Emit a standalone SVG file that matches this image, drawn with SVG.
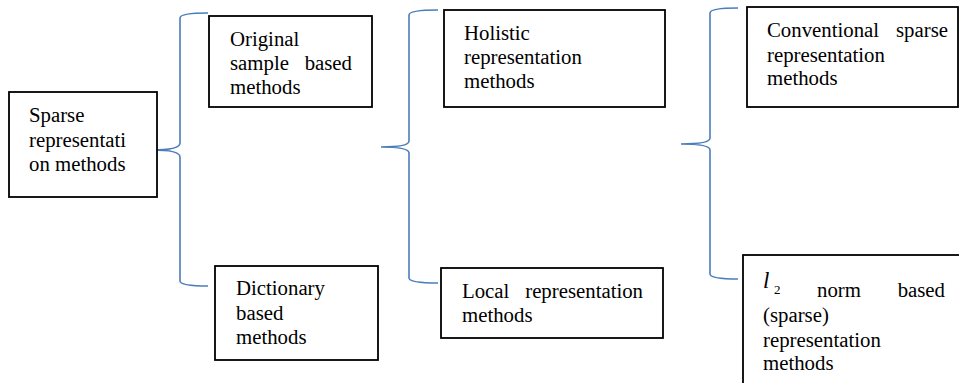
<svg xmlns="http://www.w3.org/2000/svg" width="959" height="383" viewBox="0 0 959 383">
<style>
.box{fill:#fff;stroke:#000;stroke-width:1.8}
.br{fill:none;stroke:#4a7ebb;stroke-width:1.6}
text{font-family:"Liberation Serif","Times New Roman",serif;font-size:20.8px;fill:#000}
.e{text-anchor:end}
text.l{font-style:italic;font-size:23px}
text.sub{font-size:13px}
</style>
<rect width="959" height="383" fill="#fff"/>
<g id="connectors">
<path class="br" d="M208,13 Q180,13 180,18 L180,143 Q180,150 152,150 Q180,150 180,157 L180,281 Q180,286 208,286"/>
<path class="br" d="M438,10 Q409,10 409,15 L409,141 Q409,147 381,147 Q409,147 409,153 L409,278 Q409,283 438,283"/>
<path class="br" d="M738,8 Q710,8 710,13 L710,138 Q710,144 681,144 Q710,144 710,150 L710,274 Q710,279 738,279"/>
</g>
<g id="n-sparse">
<rect class="box" x="9" y="92" width="148" height="105"/>
<text x="29" y="122">Sparse</text>
<text x="29" y="147">representati</text>
<text x="29" y="171">on methods</text>
</g>
<g id="n-original">
<rect class="box" x="209" y="16" width="163" height="91"/>
<text x="230" y="46">Original</text>
<text x="230" y="70">sample</text>
<text class="e" x="352" y="70">based</text>
<text x="230" y="94">methods</text>
</g>
<g id="n-dictionary">
<rect class="box" x="215" y="266" width="163" height="94"/>
<text x="236" y="295">Dictionary</text>
<text x="236" y="320">based</text>
<text x="236" y="344">methods</text>
</g>
<g id="n-holistic">
<rect class="box" x="444" y="10" width="221" height="97"/>
<text x="464" y="40">Holistic</text>
<text x="464" y="64">representation</text>
<text x="464" y="88">methods</text>
</g>
<g id="n-local">
<rect class="box" x="441" y="268" width="222" height="70"/>
<text x="462" y="298">Local</text>
<text class="e" x="643" y="298">representation</text>
<text x="462" y="322">methods</text>
</g>
<g id="n-conventional">
<rect class="box" x="747" y="7" width="211" height="100"/>
<text x="767" y="37">Conventional</text>
<text class="e" x="948" y="37">sparse</text>
<text x="767" y="62">representation</text>
<text x="767" y="85">methods</text>
</g>
<g id="n-l2norm">
<rect class="box" x="743" y="255" width="230" height="140"/>
<text class="l" x="763" y="288">l</text>
<text class="sub" x="774" y="294">2</text>
<text x="817" y="297">norm</text>
<text class="e" x="945" y="297">based</text>
<text x="763" y="322">(sparse)</text>
<text x="763" y="347">representation</text>
<text x="763" y="370">methods</text>
</g>
</svg>
